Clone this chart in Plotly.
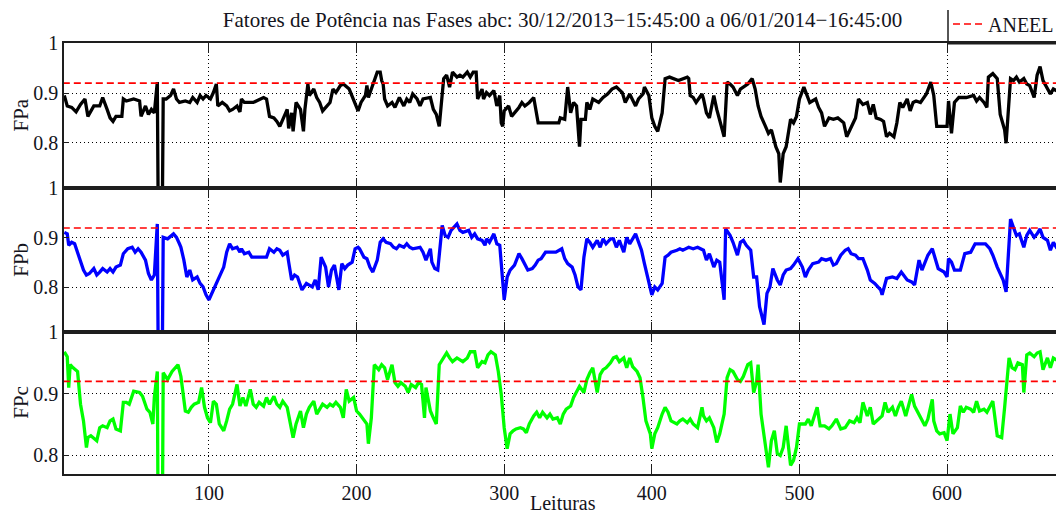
import plotly.graph_objects as go

# ---------------- data ----------------
ANEEL = 0.92
LEITURA_INI = 1
LEITURA_FIM = 677

fpa_x = [2,4,7,10,13,16,18,22,26,28,31,33,35,37,41,42,44,49,53,54,57,59,61,63,65,66,68,69,71,74,76,78,80,84,87,89,92,94,96,98,101,103,105,106,109,112,114,116,119,121,122,124,130,137,139,141,144,146,148,150,153,154,156,157,159,162,164,165,167,168,171,173,175,177,180,182,184,186,189,191,195,198,200,201,203,206,207,208,210,212,214,216,217,218,219,221,224,226,229,232,234,236,238,241,243,245,250,252,254,256,258,259,261,263,265,268,270,272,275,277,279,281,282,285,286,288,290,293,295,297,298,299,300,303,305,307,310,312,314,317,320,321,323,330,337,338,341,343,345,347,349,351,352,355,356,358,360,364,367,370,373,376,380,382,385,389,391,394,395,398,400,402,404,407,409,412,418,424,425,426,428,430,434,435,437,439,442,444,446,449,451,453,455,458,460,462,465,468,470,472,474,477,479,481,484,486,487,489,491,494,496,498,500,503,505,507,511,513,515,517,520,523,526,530,532,534,538,540,543,546,548,550,552,555,557,559,561,564,566,568,570,573,575,577,579,582,584,586,589,591,593,600,601,603,605,608,613,618,620,622,625,627,628,631,634,636,639,640,643,645,647,649,652,654,656,659,661,663,665,668,670,672,674,677]
fpa = [0.895,0.874,0.871,0.862,0.877,0.888,0.853,0.874,0.874,0.891,0.867,0.850,0.843,0.853,0.853,0.888,0.884,0.888,0.884,0.853,0.874,0.857,0.867,0.860,0.922,0.5,0.5,0.888,0.888,0.895,0.908,0.888,0.881,0.884,0.881,0.891,0.881,0.895,0.888,0.895,0.888,0.901,0.918,0.874,0.881,0.874,0.864,0.867,0.874,0.862,0.888,0.881,0.881,0.891,0.888,0.853,0.850,0.843,0.833,0.847,0.867,0.829,0.860,0.823,0.881,0.867,0.823,0.867,0.918,0.895,0.908,0.891,0.881,0.864,0.874,0.881,0.908,0.901,0.915,0.918,0.908,0.888,0.874,0.864,0.881,0.895,0.915,0.891,0.908,0.925,0.942,0.942,0.925,0.918,0.888,0.874,0.881,0.871,0.891,0.874,0.888,0.881,0.898,0.888,0.874,0.888,0.891,0.867,0.857,0.833,0.888,0.929,0.936,0.912,0.942,0.932,0.936,0.932,0.942,0.932,0.942,0.942,0.888,0.908,0.888,0.901,0.895,0.905,0.874,0.895,0.840,0.833,0.864,0.874,0.853,0.860,0.871,0.881,0.874,0.881,0.891,0.874,0.840,0.840,0.840,0.850,0.847,0.912,0.860,0.881,0.874,0.792,0.847,0.847,0.881,0.867,0.888,0.881,0.891,0.898,0.908,0.912,0.901,0.881,0.898,0.874,0.888,0.898,0.912,0.895,0.850,0.833,0.823,0.860,0.929,0.932,0.925,0.932,0.929,0.895,0.891,0.881,0.898,0.888,0.860,0.850,0.895,0.867,0.847,0.812,0.922,0.918,0.912,0.895,0.908,0.912,0.918,0.929,0.908,0.874,0.853,0.833,0.819,0.826,0.792,0.778,0.720,0.778,0.792,0.847,0.840,0.853,0.888,0.912,0.895,0.881,0.888,0.871,0.860,0.833,0.850,0.847,0.850,0.840,0.812,0.826,0.850,0.888,0.877,0.881,0.857,0.877,0.850,0.847,0.843,0.812,0.819,0.812,0.840,0.881,0.871,0.888,0.864,0.881,0.884,0.881,0.891,0.898,0.922,0.895,0.833,0.833,0.884,0.819,0.881,0.891,0.891,0.895,0.884,0.891,0.881,0.871,0.932,0.939,0.929,0.857,0.826,0.799,0.929,0.925,0.932,0.922,0.929,0.918,0.915,0.891,0.936,0.953,0.925,0.908,0.898,0.908,0.905,0.900]

fpb_x = [2,4,5,7,9,11,13,15,17,19,22,24,26,28,31,33,35,37,40,42,45,48,50,52,54,57,59,61,63,65,66,68,69,72,76,78,80,81,83,85,87,89,92,94,96,98,100,103,105,107,110,112,114,116,119,121,122,124,127,129,139,141,144,146,148,150,153,154,156,158,160,163,166,170,172,174,176,179,181,183,185,188,190,192,194,197,199,201,202,205,207,209,211,214,216,218,220,223,225,227,229,232,234,236,238,243,245,247,250,251,253,255,258,260,262,264,268,270,272,276,278,280,282,285,287,288,290,293,295,297,299,300,302,304,307,310,312,314,316,319,321,323,325,328,335,339,341,343,346,348,350,352,354,356,358,360,363,365,367,369,372,374,376,378,381,383,385,389,391,393,395,398,400,402,404,407,409,411,413,417,419,421,425,428,431,433,435,437,439,442,444,446,449,450,453,455,458,460,462,464,467,469,471,473,476,478,480,482,485,487,489,491,494,496,499,502,504,506,509,513,515,518,521,523,525,528,531,533,535,538,540,543,546,548,551,555,556,559,563,566,569,573,576,578,581,583,585,587,590,592,594,598,600,601,603,605,609,612,616,619,622,626,629,631,634,636,638,640,643,645,647,649,652,654,656,659,661,663,665,668,670,672,674,677]
fpb = [0.911,0.908,0.885,0.891,0.888,0.871,0.855,0.835,0.825,0.828,0.838,0.825,0.831,0.838,0.831,0.838,0.831,0.841,0.845,0.868,0.878,0.881,0.871,0.878,0.871,0.855,0.828,0.815,0.825,0.928,0.5,0.5,0.901,0.898,0.908,0.901,0.888,0.881,0.855,0.821,0.835,0.815,0.821,0.808,0.801,0.785,0.775,0.795,0.808,0.821,0.841,0.871,0.888,0.878,0.881,0.871,0.878,0.868,0.871,0.861,0.861,0.878,0.871,0.878,0.875,0.865,0.871,0.851,0.815,0.825,0.821,0.795,0.808,0.801,0.815,0.795,0.861,0.841,0.801,0.835,0.845,0.795,0.848,0.838,0.845,0.851,0.878,0.881,0.878,0.861,0.858,0.841,0.831,0.855,0.891,0.898,0.891,0.888,0.881,0.878,0.885,0.881,0.888,0.881,0.878,0.881,0.871,0.855,0.878,0.851,0.838,0.835,0.925,0.905,0.901,0.915,0.928,0.915,0.911,0.915,0.901,0.908,0.898,0.895,0.885,0.898,0.891,0.908,0.888,0.885,0.815,0.775,0.821,0.835,0.845,0.868,0.858,0.848,0.835,0.838,0.845,0.855,0.858,0.871,0.871,0.878,0.858,0.848,0.841,0.825,0.801,0.795,0.861,0.898,0.891,0.881,0.895,0.881,0.898,0.888,0.898,0.898,0.881,0.895,0.871,0.901,0.888,0.908,0.891,0.875,0.848,0.808,0.785,0.801,0.795,0.808,0.861,0.865,0.871,0.875,0.878,0.875,0.881,0.878,0.881,0.878,0.875,0.855,0.868,0.841,0.855,0.851,0.775,0.918,0.905,0.891,0.865,0.891,0.895,0.885,0.875,0.821,0.821,0.761,0.725,0.788,0.801,0.838,0.815,0.805,0.825,0.835,0.838,0.845,0.858,0.841,0.821,0.835,0.848,0.851,0.858,0.855,0.858,0.845,0.848,0.865,0.875,0.878,0.868,0.865,0.858,0.858,0.835,0.815,0.808,0.795,0.785,0.818,0.821,0.818,0.831,0.815,0.811,0.805,0.855,0.835,0.851,0.865,0.878,0.855,0.838,0.831,0.821,0.858,0.851,0.835,0.835,0.868,0.871,0.888,0.888,0.888,0.878,0.865,0.841,0.828,0.815,0.791,0.938,0.921,0.905,0.908,0.881,0.905,0.915,0.901,0.908,0.918,0.901,0.895,0.875,0.891,0.881,0.885]

fpc_x = [2,4,5,6,8,11,13,15,17,18,20,24,26,28,31,33,35,37,40,42,44,46,49,53,55,58,60,62,63,65,66,68,69,72,75,77,79,81,84,86,88,90,93,95,97,99,101,103,105,107,110,112,114,116,119,121,123,125,128,130,132,134,137,139,141,144,146,148,150,153,155,157,159,162,164,166,168,171,173,175,177,180,182,184,186,189,191,193,195,198,200,202,205,207,208,210,212,215,217,219,221,224,226,228,230,233,235,237,240,242,244,246,247,250,252,254,256,259,261,263,265,268,270,272,275,277,280,282,285,287,289,291,294,296,298,300,302,304,306,308,311,313,315,317,320,322,324,326,329,331,333,336,338,340,342,345,347,349,351,354,356,358,360,363,365,367,369,372,374,376,378,381,383,385,387,390,392,394,396,399,400,402,404,407,409,411,413,417,419,421,424,426,428,431,434,435,437,439,442,444,446,449,451,453,455,458,460,462,465,467,469,471,472,474,477,479,481,483,485,487,489,491,494,496,498,500,504,506,508,512,514,517,520,522,525,528,531,534,537,539,541,543,546,548,550,554,556,558,560,563,565,567,569,572,574,576,578,581,583,585,587,590,591,593,595,598,600,602,604,607,609,611,613,616,618,620,622,625,627,629,631,634,637,639,642,644,646,648,651,652,654,656,659,661,663,665,668,670,672,674,677]
fpc = [0.968,0.960,0.910,0.947,0.942,0.936,0.883,0.856,0.813,0.829,0.832,0.824,0.845,0.848,0.845,0.856,0.859,0.843,0.840,0.886,0.886,0.883,0.904,0.902,0.896,0.875,0.870,0.851,0.894,0.936,0.5,0.5,0.934,0.923,0.936,0.942,0.947,0.928,0.872,0.870,0.878,0.883,0.886,0.910,0.878,0.861,0.853,0.888,0.883,0.851,0.840,0.856,0.875,0.883,0.915,0.880,0.894,0.880,0.907,0.883,0.878,0.886,0.880,0.894,0.883,0.896,0.883,0.878,0.888,0.878,0.856,0.829,0.851,0.872,0.845,0.867,0.878,0.888,0.867,0.875,0.883,0.878,0.883,0.880,0.886,0.878,0.861,0.907,0.888,0.894,0.872,0.867,0.856,0.851,0.819,0.861,0.947,0.939,0.947,0.942,0.923,0.947,0.918,0.912,0.918,0.912,0.902,0.915,0.910,0.918,0.915,0.861,0.910,0.872,0.861,0.851,0.947,0.958,0.966,0.958,0.952,0.958,0.955,0.952,0.958,0.968,0.968,0.942,0.952,0.950,0.963,0.968,0.963,0.936,0.899,0.845,0.811,0.835,0.840,0.843,0.845,0.843,0.837,0.851,0.864,0.870,0.861,0.870,0.861,0.867,0.859,0.861,0.851,0.867,0.875,0.880,0.894,0.904,0.912,0.902,0.923,0.934,0.942,0.902,0.931,0.939,0.942,0.950,0.958,0.960,0.952,0.958,0.942,0.958,0.944,0.936,0.926,0.894,0.856,0.835,0.811,0.835,0.845,0.867,0.878,0.870,0.856,0.851,0.856,0.859,0.853,0.859,0.851,0.845,0.878,0.864,0.856,0.861,0.845,0.821,0.835,0.867,0.926,0.939,0.936,0.923,0.920,0.928,0.947,0.950,0.902,0.920,0.947,0.867,0.813,0.781,0.824,0.840,0.803,0.800,0.813,0.848,0.784,0.792,0.813,0.851,0.851,0.859,0.848,0.878,0.848,0.848,0.843,0.848,0.859,0.843,0.845,0.856,0.853,0.861,0.853,0.886,0.864,0.878,0.851,0.859,0.864,0.886,0.870,0.878,0.864,0.878,0.888,0.864,0.880,0.899,0.880,0.867,0.856,0.848,0.859,0.891,0.856,0.840,0.835,0.837,0.824,0.867,0.835,0.845,0.880,0.870,0.878,0.875,0.870,0.888,0.872,0.875,0.870,0.878,0.888,0.832,0.829,0.878,0.958,0.942,0.939,0.950,0.947,0.902,0.963,0.966,0.960,0.966,0.968,0.939,0.958,0.942,0.958,0.955,0.950]

x_ticks = [100, 200, 300, 400, 500, 600]
y_ticks = [0.8, 0.9, 1.0]
y_ticktext = ["0.8", "0.9", "1"]
titulo = "Fatores de Potência nas Fases abc: 30/12/2013\u221215:45:00 a 06/01/2014\u221216:45:00"

# ---------------- figure ----------------
W, H = 1056, 515
ML, MR, MT, MB = 64, 0, 43, 41
PH = H - MT - MB  # plot-area height in px
PW = W - ML - MR

def py(px):  # pixel row -> paper y
    return (H - MB - px) / PH

def pxx(px):  # pixel column -> paper x
    return (px - ML) / PW

FONT = "Liberation Serif, Times New Roman, serif"
TXT = "#141420"
LINE = "#1e1e1e"

rows = [
    dict(y=fpa, x=fpa_x, color="#000000", dom=[py(188), 1.0], rng=[0.709, 1.0006], lab="FPa"),
    dict(y=fpb, x=fpb_x, color="#0000ff", dom=[py(331.5), py(188)], rng=[0.711, 1.0006], lab="FPb"),
    dict(y=fpc, x=fpc_x, color="#00ff00", dom=[0.0, py(331.5)], rng=[0.77, 1.0008], lab="FPc"),
]

fig = go.Figure()
annotations = []
for i, r in enumerate(rows):
    sfx = "" if i == 0 else str(i + 1)
    xa, ya = "x" + sfx, "y" + sfx
    fig.add_trace(go.Scatter(x=r["x"], y=r["y"], mode="lines", xaxis=xa, yaxis=ya,
                             line=dict(color=r["color"], width=3.3), showlegend=False,
                             hoverinfo="skip"))
    fig.add_trace(go.Scatter(x=[LEITURA_INI, LEITURA_FIM], y=[ANEEL, ANEEL], mode="lines",
                             xaxis=xa, yaxis=ya, name="ANEEL",
                             line=dict(color="#ff0000", width=1.6, dash="7px,4px"),
                             showlegend=(i == 0), hoverinfo="skip"))
    last = (i == 2)
    fig.layout["xaxis" + sfx] = dict(
        domain=[0, 1], anchor=ya, range=[1.8, 673.8],
        tickmode="array", tickvals=x_ticks, ticktext=[str(v) for v in x_ticks],
        showticklabels=last, ticks="inside", ticklen=10, tickwidth=1.2, tickcolor=LINE,
        showline=True, linecolor=LINE, linewidth=2, mirror="ticks",
        showgrid=True, gridcolor="#000000", griddash="1px,3px", gridwidth=1,
        zeroline=False, tickfont=dict(family=FONT, size=20, color=TXT),
        matches=None if i == 0 else "x",
    )
    fig.layout["yaxis" + sfx] = dict(
        domain=r["dom"], anchor=xa, range=r["rng"],
        tickmode="array", tickvals=y_ticks, ticktext=y_ticktext,
        ticks="inside", ticklen=5, tickwidth=1.2, tickcolor=LINE,
        showline=True, linecolor=LINE, linewidth=1.5, mirror=False,
        showgrid=True, gridcolor="#000000", griddash="1px,3px", gridwidth=1,
        zeroline=False, tickfont=dict(family=FONT, size=20, color=TXT),
    )
    yc = (r["dom"][0] + r["dom"][1]) / 2
    annotations.append(dict(text=r["lab"], xref="paper", yref="paper", x=pxx(21), y=yc,
                            xanchor="center", yanchor="middle", textangle=-90, showarrow=False,
                            font=dict(family=FONT, size=21, color=TXT)))

annotations.append(dict(text="Leituras", xref="paper", yref="paper", x=pxx(563), y=py(503),
                        xanchor="center", yanchor="middle", showarrow=False,
                        font=dict(family=FONT, size=20, color=TXT)))

shapes = [
    dict(type="line", xref="paper", yref="paper", x0=pxx(948), x1=pxx(948), y0=1.0, y1=py(10),
         line=dict(color=LINE, width=1.5)),
    dict(type="line", xref="paper", yref="paper", x0=pxx(948), x1=1.0, y0=1.0, y1=1.0,
         line=dict(color=LINE, width=3)),
]

fig.update_layout(
    width=W, height=H,
    margin=dict(l=ML, r=MR, t=MT, b=MB, autoexpand=False),
    paper_bgcolor="white", plot_bgcolor="white",
    title=dict(text=titulo, x=562.5 / W, xref="container", xanchor="center",
               y=1 - 20 / H, yref="container", yanchor="middle",
               font=dict(family=FONT, size=21, color=TXT)),
    showlegend=True,
    legend=dict(x=pxx(948), xanchor="left", y=py(24), yanchor="middle",
                bgcolor="rgba(0,0,0,0)", borderwidth=0,
                font=dict(family=FONT, size=20, color=TXT), itemwidth=30),
    annotations=annotations, shapes=shapes,
)

fig.write_html("out.html")
